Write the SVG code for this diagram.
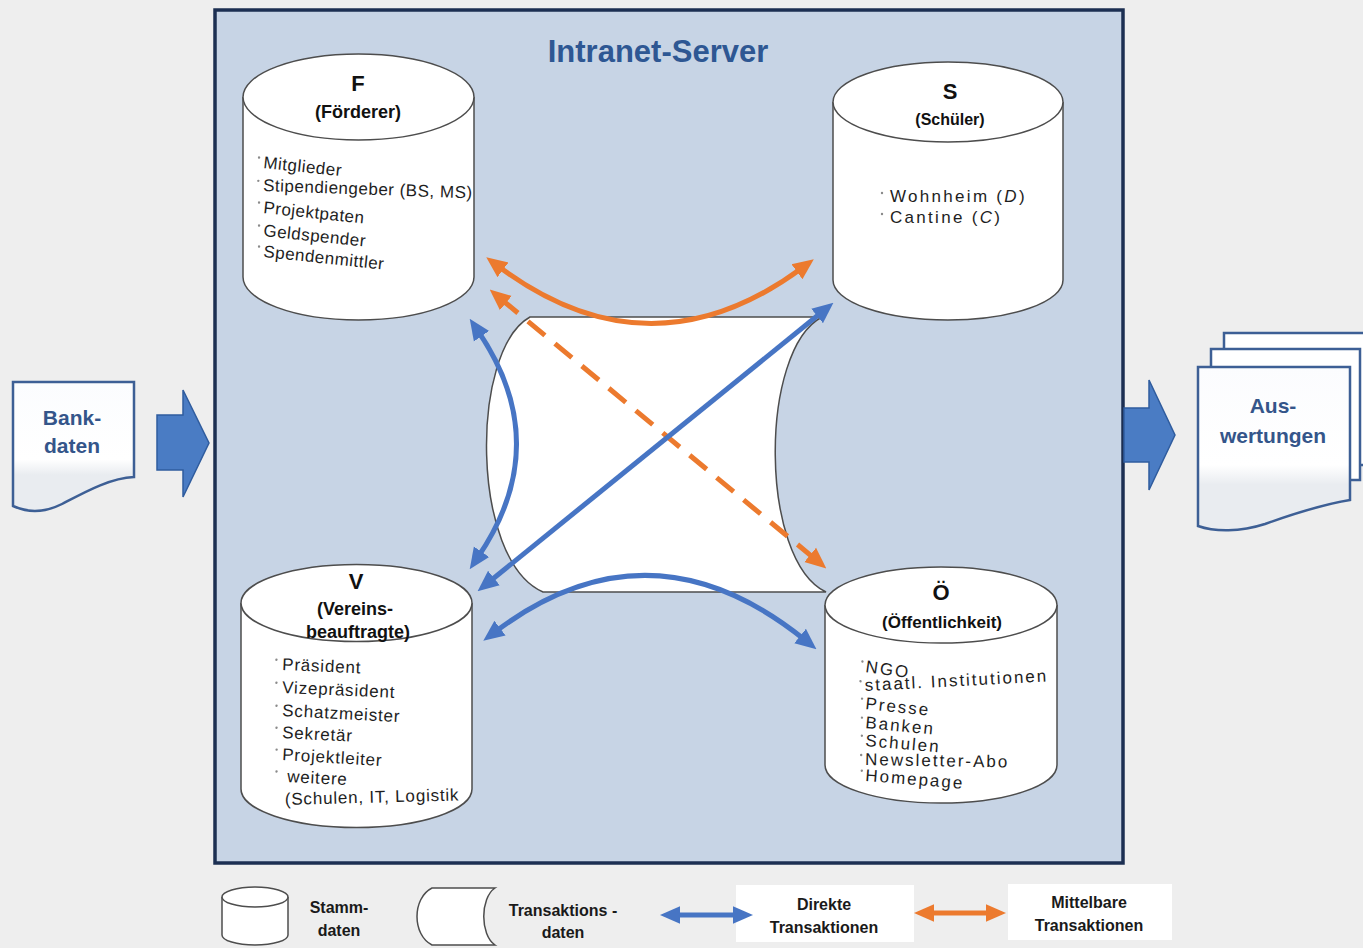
<svg xmlns="http://www.w3.org/2000/svg" width="1363" height="948" viewBox="0 0 1363 948">
<defs>
<style>
text{font-family:"Liberation Sans",Arial,sans-serif}
.cyl{fill:#ffffff;stroke:#4d4d4d;stroke-width:1.5}
.hd{font-weight:bold;fill:#111;text-anchor:middle}
.it{font-size:17px;fill:#1e1e1e}
.bul{fill:#8a8a8a}
.doc{stroke:#3d5f95;stroke-width:2.5}
.docT{font-weight:bold;font-size:21px;fill:#34558a;text-anchor:middle}
.blk{fill:#4a7cc4;stroke:#2f5c9e;stroke-width:1.5}
.cb{fill:none;stroke:#4775c4;stroke-width:5}
.co{fill:none;stroke:#ec7a2e;stroke-width:5}
.lg{font-weight:bold;font-size:16px;fill:#1a1a1a;text-anchor:middle}
</style>
<linearGradient id="docg" x1="0" y1="0" x2="0" y2="1">
<stop offset="0" stop-color="#fbfcfe"/>
<stop offset="0.6" stop-color="#ffffff"/>
<stop offset="0.72" stop-color="#e9ecf0"/>
<stop offset="1" stop-color="#e9ecf0"/>
</linearGradient>
<marker id="ab" viewBox="0 0 10 10" refX="3" refY="5" markerWidth="4.2" markerHeight="4.2" orient="auto-start-reverse"><path d="M0,0.6 L10,5 L0,9.4 Z" fill="#4775c4"/></marker>
<marker id="ao" viewBox="0 0 10 10" refX="3" refY="5" markerWidth="4.2" markerHeight="4.2" orient="auto-start-reverse"><path d="M0,0.6 L10,5 L0,9.4 Z" fill="#ec7a2e"/></marker>
<marker id="abs" viewBox="0 0 10 10" refX="3" refY="5" markerWidth="4" markerHeight="4" orient="auto-start-reverse"><path d="M0,0.6 L10,5 L0,9.4 Z" fill="#4775c4"/></marker>
<marker id="aos" viewBox="0 0 10 10" refX="3" refY="5" markerWidth="4" markerHeight="4" orient="auto-start-reverse"><path d="M0,0.6 L10,5 L0,9.4 Z" fill="#ec7a2e"/></marker>
</defs>

<rect x="0" y="0" width="1363" height="948" fill="#eeeeee"/>

<g id="server">
<rect x="215" y="10" width="908" height="853" fill="#c7d4e5" stroke="#1c2f52" stroke-width="3.5"/>
<text x="658" y="62" text-anchor="middle" font-size="31" font-weight="bold" fill="#2e5793">Intranet-Server</text>
</g>

<g id="node-F">
<path class="cyl" d="M243,97 V277 A115.5,43 0 0 0 474,277 V97"/>
<ellipse class="cyl" cx="358.5" cy="97" rx="115.5" ry="43"/>
<text class="hd" x="358" y="91" font-size="22">F</text>
<text class="hd" x="358" y="118" font-size="18">(Förderer)</text>
<g class="it" letter-spacing="0.5">
<g transform="translate(263,168) rotate(6)"><circle class="bul" cx="-5" cy="-10" r="1.2"/><text>Mitglieder</text></g>
<g transform="translate(263,191) rotate(2)"><circle class="bul" cx="-5" cy="-10" r="1.2"/><text>Stipendiengeber (BS, MS)</text></g>
<g transform="translate(263,213) rotate(6)"><circle class="bul" cx="-5" cy="-10" r="1.2"/><text>Projektpaten</text></g>
<g transform="translate(263,236) rotate(6)"><circle class="bul" cx="-5" cy="-10" r="1.2"/><text>Geldspender</text></g>
<g transform="translate(263,257) rotate(6)"><circle class="bul" cx="-5" cy="-10" r="1.2"/><text>Spendenmittler</text></g>
</g>
</g>

<g id="node-S">
<path class="cyl" d="M833,102 V280 A115,40 0 0 0 1063,280 V102"/>
<ellipse class="cyl" cx="948" cy="102" rx="115" ry="40"/>
<text class="hd" x="950" y="99" font-size="22">S</text>
<text class="hd" x="950" y="125" font-size="16">(Schüler)</text>
<g class="it" letter-spacing="2.3">
<circle class="bul" cx="882" cy="193" r="1.2"/>
<text x="890" y="202">Wohnheim (<tspan font-style="italic">D</tspan>)</text>
<circle class="bul" cx="882" cy="214" r="1.2"/>
<text x="890" y="223">Cantine (<tspan font-style="italic">C</tspan>)</text>
</g>
</g>

<g id="node-V">
<path class="cyl" d="M241,603 V789 A115.5,38.5 0 0 0 472,789 V603"/>
<ellipse class="cyl" cx="356.5" cy="603" rx="115.5" ry="38.5"/>
<text class="hd" x="356" y="589" font-size="22">V</text>
<text class="hd" x="355" y="615" font-size="18">(Vereins-</text>
<text class="hd" x="358" y="638" font-size="18">beauftragte)</text>
<g class="it" letter-spacing="0.8">
<g transform="translate(282,670) rotate(2.5)"><circle class="bul" cx="-6" cy="-10" r="1.2"/><text>Präsident</text></g>
<g transform="translate(282,693) rotate(2.5)"><circle class="bul" cx="-6" cy="-10" r="1.2"/><text>Vizepräsident</text></g>
<g transform="translate(282,716) rotate(3)"><circle class="bul" cx="-6" cy="-10" r="1.2"/><text>Schatzmeister</text></g>
<g transform="translate(282,738) rotate(3)"><circle class="bul" cx="-6" cy="-10" r="1.2"/><text>Sekretär</text></g>
<g transform="translate(282,760) rotate(3.5)"><circle class="bul" cx="-6" cy="-10" r="1.2"/><text>Projektleiter</text></g>
<g transform="translate(287,782) rotate(3)"><circle class="bul" cx="-11" cy="-10" r="1.2"/><text>weitere</text></g>
<g transform="translate(285,805) rotate(-1.5)"><text>(Schulen, IT, Logistik</text></g>
</g>
</g>

<g id="node-Oe">
<path class="cyl" d="M825,605 V765 A116,38 0 0 0 1057,765 V605"/>
<ellipse class="cyl" cx="941" cy="605" rx="116" ry="38"/>
<text class="hd" x="941" y="600" font-size="22">Ö</text>
<text class="hd" x="942" y="628" font-size="17">(Öffentlichkeit)</text>
<g class="it" font-size="16" letter-spacing="2">
<g transform="translate(865,672) rotate(8)"><circle class="bul" cx="-4" cy="-10" r="1.2"/><text>NGO</text></g>
<g transform="translate(865,691) rotate(-3)"><circle class="bul" cx="-4" cy="-10" r="1.2"/><text>staatl. Institutionen</text></g>
<g transform="translate(865,709) rotate(6)"><circle class="bul" cx="-4" cy="-10" r="1.2"/><text>Presse</text></g>
<g transform="translate(865,728) rotate(5.5)"><circle class="bul" cx="-4" cy="-10" r="1.2"/><text>Banken</text></g>
<g transform="translate(865,746) rotate(5)"><circle class="bul" cx="-4" cy="-10" r="1.2"/><text>Schulen</text></g>
<g transform="translate(865,765) rotate(1)"><circle class="bul" cx="-4" cy="-10" r="1.2"/><text>Newsletter-Abo</text></g>
<g transform="translate(865,781) rotate(4.5)"><circle class="bul" cx="-4" cy="-10" r="1.2"/><text>Homepage</text></g>
</g>
</g>

<g id="node-T">
<path d="M530,317 L822,317 C759,350 759,560 826,592 L543,592 C470,560 470,350 530,317 Z" fill="#ffffff" stroke="#4d4d4d" stroke-width="1.5"/>
</g>

<g id="node-bank">
<path class="doc" fill="url(#docg)" d="M13,382 H134 V477 C110,478 85,492 62,504 C42,514 26,512 13,506 Z"/>
<text class="docT" x="72" y="425">Bank-</text>
<text class="docT" x="72" y="453">daten</text>
</g>

<g id="node-ausw">
<rect x="1224" y="333" width="150" height="132" fill="#ffffff" class="doc"/>
<rect x="1211" y="349" width="149" height="131" fill="#ffffff" class="doc"/>
<path class="doc" fill="url(#docg)" d="M1198,367 H1350 V500 C1320,505 1290,515 1265,524 C1240,532 1215,532 1198,526 Z"/>
<text class="docT" x="1273" y="413">Aus-</text>
<text class="docT" x="1273" y="443">wertungen</text>
</g>

<g id="connectors">
<path class="blk" d="M157,415 H183 V390 L209,443 L183,497 V470 H157 Z"/>
<path class="blk" d="M1124,408 H1149 V380 L1175,435 L1149,490 V462 H1124 Z"/>
<path class="co" d="M498,266 Q650,380 802,268" marker-start="url(#ao)" marker-end="url(#ao)"/>
<path class="co" stroke-width="6" stroke-dasharray="22 13" d="M501,299 L815,559" marker-start="url(#ao)" marker-end="url(#ao)"/>
<path class="cb" d="M489,582 L822,312" marker-start="url(#ab)" marker-end="url(#ab)"/>
<path class="cb" d="M478,331 Q555,444 478,557" marker-start="url(#ab)" marker-end="url(#ab)"/>
<path class="cb" d="M495,632 Q650,515 805,640" marker-start="url(#ab)" marker-end="url(#ab)"/>
</g>

<g id="legend">
<path class="cyl" d="M222,897 V935 A33,10 0 0 0 288,935 V897"/>
<ellipse class="cyl" cx="255" cy="897" rx="33" ry="10"/>
<text class="lg" x="339" y="913">Stamm-</text>
<text class="lg" x="339" y="936">daten</text>
<path d="M432,888 L495,888 C480,898 480,935 495,945 L432,945 C412,935 412,898 432,888 Z" fill="#ffffff" stroke="#4d4d4d" stroke-width="1.5"/>
<text class="lg" x="563" y="916">Transaktions -</text>
<text class="lg" x="563" y="938">daten</text>
<rect x="736" y="885" width="178" height="57" fill="#ffffff"/>
<text class="lg" x="824" y="910" fill="#3a5a8c">Direkte</text>
<text class="lg" x="824" y="933" fill="#3a5a8c">Transaktionen</text>
<rect x="1008" y="884" width="164" height="56" fill="#ffffff"/>
<text class="lg" x="1089" y="908" fill="#e8772e">Mittelbare</text>
<text class="lg" x="1089" y="931" fill="#e8772e">Transaktionen</text>
<path class="cb" stroke-width="4" d="M674,915 L739,915" marker-start="url(#abs)" marker-end="url(#abs)"/>
<path class="co" stroke-width="4" d="M928,913 L992,913" marker-start="url(#aos)" marker-end="url(#aos)"/>
</g>
</svg>
